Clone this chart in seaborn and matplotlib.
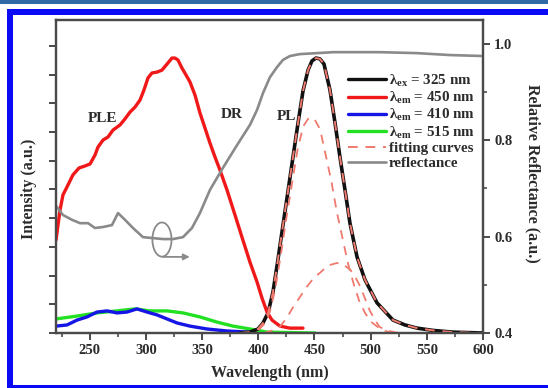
import numpy as np
import pandas as pd
import matplotlib
matplotlib.use("Agg")
import matplotlib.pyplot as plt
import seaborn as sns
from matplotlib.patches import Rectangle, Ellipse
from matplotlib.lines import Line2D
from matplotlib.ticker import MultipleLocator
from matplotlib.font_manager import FontProperties

# ---------------- data ----------------
ple_wl = [220, 223.6, 226.2, 229.8, 235.1, 240.5, 245.8, 250.3, 254.7, 257.4, 261.8, 266.3,
          270.7, 277, 281.4, 285.9, 290.3, 294.8, 298.3, 301.9, 305.4, 309.9, 314.3, 318.8,
          323.2, 325.9, 328.6, 332.1, 335.7, 339.2, 343.7, 348.1, 352.6, 357, 361.5, 365.9,
          372.2, 379.3, 385.5, 392.6, 398.9, 403.3, 407.8, 412.2, 419.3, 428.2, 439.8]
ple_int = [0.324, 0.429, 0.481, 0.509, 0.551, 0.575, 0.582, 0.589, 0.620, 0.648, 0.672, 0.683,
           0.707, 0.725, 0.746, 0.770, 0.787, 0.812, 0.847, 0.889, 0.906, 0.909, 0.916, 0.937,
           0.958, 0.958, 0.951, 0.923, 0.899, 0.875, 0.829, 0.767, 0.714, 0.662, 0.613, 0.568,
           0.498, 0.411, 0.334, 0.247, 0.178, 0.122, 0.073, 0.045, 0.024, 0.017, 0.017]

pl_wl = [383.7, 392.6, 399.8, 404.2, 408.7, 413.1, 417.6, 422, 426.5, 430.9, 435.4, 439.8,
         444.3, 447.8, 451.4, 454.9, 458.5, 463.8, 468.3, 472.7, 477.2, 481.6, 487.9, 495,
         505.7, 519.9, 530.6, 541.3, 555.5, 573.3, 600]
pl_int = [0.0, 0.003, 0.014, 0.035, 0.070, 0.143, 0.258, 0.376, 0.495, 0.613, 0.732, 0.843,
          0.916, 0.948, 0.958, 0.955, 0.937, 0.847, 0.732, 0.613, 0.498, 0.383, 0.265, 0.185,
          0.105, 0.045, 0.028, 0.017, 0.009, 0.003, 0.0]

fit1_wl = [400, 405, 410, 415, 420, 425, 430, 435, 440, 445, 450, 455, 460, 465, 470, 475,
           480, 485, 490, 495, 500, 510, 520]
fit1_int = [0.01, 0.03, 0.07, 0.15, 0.27, 0.40, 0.52, 0.64, 0.72, 0.75, 0.745, 0.71, 0.62,
            0.53, 0.42, 0.33, 0.24, 0.17, 0.11, 0.07, 0.04, 0.01, 0.0]

fit2_wl = [405, 412, 419, 425, 431, 437, 443, 449, 455, 462, 470, 476, 482, 487, 491, 495,
           499, 504, 508, 515, 525]
fit2_int = [0.0, 0.008, 0.021, 0.05, 0.09, 0.125, 0.16, 0.19, 0.21, 0.235, 0.244, 0.238,
            0.22, 0.19, 0.16, 0.12, 0.08, 0.045, 0.021, 0.008, 0.0]

blue_wl = [220, 229.8, 238.7, 247.6, 256.5, 265.4, 274.3, 283.2, 292.1, 301, 309.9, 318.8,
           327.7, 339.2, 354.4, 372.2, 392.6]
blue_int = [0.024, 0.028, 0.045, 0.056, 0.073, 0.077, 0.070, 0.073, 0.084, 0.073, 0.063,
            0.049, 0.035, 0.024, 0.014, 0.007, 0.003]

green_wl = [220, 238.7, 256.5, 274.3, 290.3, 303.6, 318.8, 333, 348.1, 363.3, 377.5, 392.6,
            407.8, 450.5]
green_int = [0.049, 0.059, 0.070, 0.077, 0.084, 0.077, 0.077, 0.070, 0.056, 0.038, 0.024,
             0.014, 0.003, 0.0]

refl_wl = [220, 226.2, 234.2, 241.4, 248.5, 254.7, 261.8, 269.8, 275.2, 281.4, 288.5, 297.4,
           306.3, 315.2, 324.1, 333, 341, 348.1, 357, 368.6, 381.1, 392.6, 398.9, 404.2, 410.4,
           416.7, 422, 428.2, 437.1, 452.3, 466.5, 481.6, 508.3, 541.3, 570.6, 600]
refl_val = [0.664, 0.645, 0.635, 0.628, 0.628, 0.618, 0.620, 0.624, 0.649, 0.635, 0.618, 0.599,
            0.597, 0.595, 0.595, 0.599, 0.618, 0.649, 0.697, 0.743, 0.790, 0.832, 0.863, 0.898,
            0.931, 0.952, 0.967, 0.975, 0.979, 0.981, 0.983, 0.983, 0.983, 0.981, 0.977, 0.975]

legend_labels = ["λ$_{ex}$ = 325 nm", "λ$_{em}$ = 450 nm", "λ$_{em}$ = 410 nm",
                 "λ$_{em}$ = 515 nm", "fitting curves", "reflectance"]
x_ticks = [250, 300, 350, 400, 450, 500, 550, 600]
r_ticks = [0.4, 0.6, 0.8, 1.0]

# ---------------- style ----------------
sns.set_style("ticks")
plt.rcParams["font.family"] = ["Liberation Serif", "DejaVu Serif"]
plt.rcParams["font.weight"] = "bold"
plt.rcParams["mathtext.fontset"] = "custom"
plt.rcParams["mathtext.rm"] = "Liberation Serif:bold"
plt.rcParams["mathtext.it"] = "Liberation Serif:bold"
plt.rcParams["mathtext.bf"] = "Liberation Serif:bold"
plt.rcParams["mathtext.default"] = "regular"

TXT = "#2b2b2b"
SP = "#4a4a4a"
C_BLACK = "#111111"
C_RED = "#f01818"
C_BLUE = "#1515e6"
C_GREEN = "#22e022"
C_FIT = "#f07a6e"
C_GRAY = "#8a8a8a"

W, H = 548, 388
fig = plt.figure(figsize=(W / 100, H / 100), dpi=100)
fig.patch.set_facecolor("white")

# decorative frame of the reference
fig.add_artist(Rectangle((0, 1 - 3.5 / H), 1, 3.5 / H, transform=fig.transFigure,
                         facecolor="#2f6aa6", edgecolor="none"))
fig.add_artist(Rectangle((7 / W, 1 - 15 / H), 1, 6 / H, transform=fig.transFigure,
                         facecolor="#0a0af5", edgecolor="none"))
fig.add_artist(Rectangle((7 / W, 0), 6 / W, 1 - 9 / H, transform=fig.transFigure,
                         facecolor="#0a0af5", edgecolor="none"))
fig.add_artist(Rectangle((7 / W, 0), 1, 3 / H, transform=fig.transFigure,
                         facecolor="#0a0af5", edgecolor="none"))

ax = fig.add_axes([56 / W, 55 / H, 427 / W, 313 / H])
ax2 = ax.twinx()


def draw(axis, x, y, color, lw, ls="-", z=2, dashes=None):
    df = pd.DataFrame({"x": x, "y": y})
    sns.lineplot(data=df, x="x", y="y", ax=axis, color=color, lw=lw, estimator=None,
                 sort=False, zorder=z, legend=False)
    line = axis.lines[-1]
    line.set_linestyle(ls)
    if dashes is not None:
        line.set_dashes(dashes)
    line.set_solid_capstyle("round")
    return line


draw(ax, green_wl, green_int, C_GREEN, 2.4, z=3)
draw(ax, blue_wl, blue_int, C_BLUE, 2.4, z=3)
draw(ax, pl_wl, pl_int, C_BLACK, 2.6, z=4)
draw(ax, ple_wl, ple_int, C_RED, 2.4, z=5)
draw(ax, pl_wl, pl_int, C_FIT, 1.4, ls="--", z=6, dashes=(5, 4))
draw(ax, fit1_wl, fit1_int, C_FIT, 1.3, ls="--", z=6, dashes=(5, 4))
draw(ax, fit2_wl, fit2_int, C_FIT, 1.3, ls="--", z=6, dashes=(5, 4))
draw(ax2, refl_wl, refl_val, C_GRAY, 1.9, z=2)

ax.set_xlim(220, 600)
ax.set_ylim(0, 313 / 287)
ax2.set_ylim(0.4, 0.4 + 313 / 481.7)

ax.set_xticks(x_ticks)
ax.xaxis.set_minor_locator(MultipleLocator(25))
ax.yaxis.set_major_locator(MultipleLocator(0.1))
ax.set_yticklabels([])
ax2.set_yticks(r_ticks)
ax2.set_yticklabels([f"{t:.1f}" for t in r_ticks])
ax2.yaxis.set_minor_locator(MultipleLocator(0.1))

for a in (ax, ax2):
    for s in a.spines.values():
        s.set_color(SP)
        s.set_linewidth(1.6)
    a.tick_params(which="major", direction="out", length=5, width=1.4, color=SP,
                  labelsize=10.5, labelcolor=TXT, pad=3)
    a.tick_params(which="minor", direction="out", length=3, width=1.2, color=SP)
ax.tick_params(axis="y", which="both", left=True, right=False)
ax2.tick_params(axis="y", which="both", right=True, left=False)

for lab in ax.get_xticklabels() + ax2.get_yticklabels():
    lab.set_fontweight("bold")

lab_font = dict(fontsize=11.5, fontweight="bold", color=TXT)
ax.set_xlabel("Wavelength (nm)", **lab_font)
ax.set_ylabel("Intensity (a.u.)", **lab_font)
ax2.set_ylabel("Relative Reflectance (a.u.)", rotation=270, va="center", **lab_font)
ax.xaxis.set_label_coords(0.5, -(373 - 333) / 313, transform=ax.transAxes)
ax.xaxis.label.set_va("center")
ax.yaxis.set_label_coords((29 - 56) / 427, 0.46)
ax.yaxis.label.set_va("center")
ax2.yaxis.set_label_coords((533 - 56) / 427, 0.51)

# annotations
ann = dict(fontsize=11, fontweight="bold", color=TXT, ha="center", va="center")
ax.text(261, 0.749, "PLE", **ann)
ax.text(376.5, 0.760, "DR", **ann)
ax.text(425.5, 0.753, "PL", **ann)

ax2.add_patch(Ellipse((314.3, 0.594), 17, 0.071, fill=False, edgecolor=C_GRAY, lw=1.3, zorder=3))
ax2.annotate("", xy=(339, 0.558), xytext=(315, 0.558),
             arrowprops=dict(arrowstyle="-|>", color=C_GRAY, lw=1.3, mutation_scale=9,
                             shrinkA=0, shrinkB=0))

handles = [Line2D([], [], color=C_BLACK, lw=2.4),
           Line2D([], [], color=C_RED, lw=2.4),
           Line2D([], [], color=C_BLUE, lw=2.4),
           Line2D([], [], color=C_GREEN, lw=2.4),
           Line2D([], [], color=C_FIT, lw=1.4, ls=(0, (5, 4))),
           Line2D([], [], color=C_GRAY, lw=1.9)]
leg = ax2.legend(handles, legend_labels, loc="upper left", bbox_to_anchor=(0.684, 0.832),
                 frameon=False, prop=FontProperties(family="Liberation Serif", weight="bold", size=10.8),
                 handlelength=2.5, handletextpad=0.2, labelspacing=0.08, borderpad=0,
                 borderaxespad=0)
for t in leg.get_texts():
    t.set_color(TXT)

fig.savefig("out.png", dpi=100)
